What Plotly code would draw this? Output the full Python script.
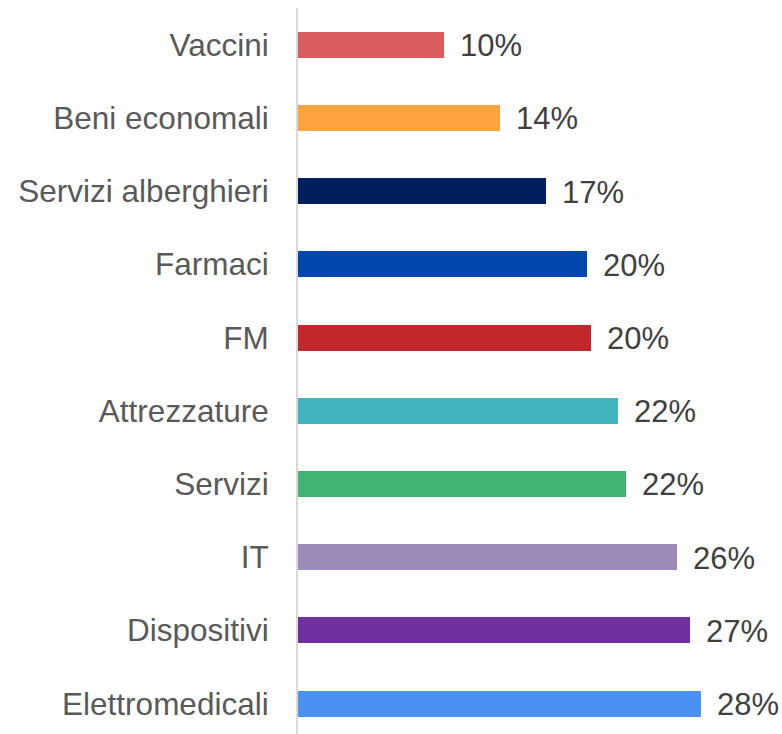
import plotly.graph_objects as go

categories = ["Vaccini", "Beni economali", "Servizi alberghieri", "Farmaci", "FM",
              "Attrezzature", "Servizi", "IT", "Dispositivi", "Elettromedicali"]
values = [0.0997, 0.1379, 0.1693, 0.1973, 0.2007, 0.2191, 0.2246, 0.2594, 0.2683, 0.2758]
colors = ["#DB5C5C", "#FFA33F", "#011F5E", "#0047AB", "#C0282C",
          "#42B4BE", "#41B373", "#9A8BB8", "#7030A0", "#4A91F2"]

fig = go.Figure()
fig.add_trace(go.Bar(
    y=categories, x=values, orientation="h",
    marker=dict(color=colors, line=dict(width=0)),
    width=0.355, hoverinfo="skip",
))

for c, v in zip(categories, values):
    fig.add_annotation(
        x=v, y=c, xref="x", yref="y", text=f"{round(v*100)}%",
        showarrow=False, xanchor="left", yanchor="middle", xshift=14, yshift=-1,
        font=dict(family="Liberation Sans, Arial, sans-serif", size=31, color="#404040"),
    )

fig.update_layout(
    width=782, height=734,
    margin=dict(l=298, r=0, t=8, b=0),
    paper_bgcolor="white", plot_bgcolor="white",
    showlegend=False,
    font=dict(family="Liberation Sans, Arial, sans-serif"),
    bargap=0,
)
fig.update_xaxes(range=[0, 0.331], visible=False, showgrid=False, zeroline=False, fixedrange=True)
fig.update_yaxes(
    type="category", categoryorder="array", categoryarray=categories,
    range=[9.415, -0.5],
    showline=True, linecolor="#D9D9D9", linewidth=2,
    showgrid=False, zeroline=False, ticks="", ticklabelstandoff=21,
    tickfont=dict(family="Liberation Sans, Arial, sans-serif", size=31.5, color="#595959"),
)

fig.write_html("out.html")
